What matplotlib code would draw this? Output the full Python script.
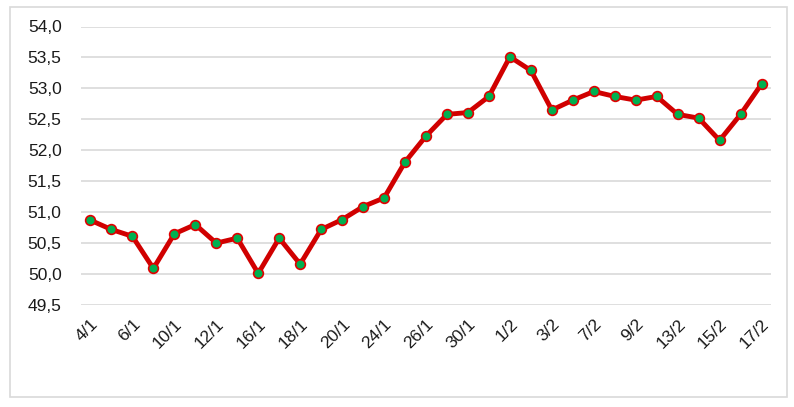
import numpy as np
import matplotlib.pyplot as plt
from matplotlib.patches import Rectangle

plt.rcParams['font.family'] = ['Liberation Sans', 'DejaVu Sans']

dates = ['4/1', '5/1', '6/1', '9/1', '10/1', '11/1', '12/1', '13/1', '16/1', '17/1',
         '18/1', '19/1', '20/1', '23/1', '24/1', '25/1', '26/1', '27/1', '30/1', '31/1',
         '1/2', '2/2', '3/2', '6/2', '7/2', '8/2', '9/2', '10/2', '13/2', '14/2',
         '15/2', '16/2', '17/2']
values = [50.87, 50.72, 50.61, 50.09, 50.65, 50.80, 50.50, 50.58, 50.01, 50.58,
          50.16, 50.72, 50.88, 51.09, 51.23, 51.81, 52.23, 52.58, 52.61, 52.87,
          53.51, 53.29, 52.65, 52.81, 52.95, 52.87, 52.81, 52.87, 52.58, 52.52,
          52.16, 52.58, 53.07]
yticks = [49.5, 50.0, 50.5, 51.0, 51.5, 52.0, 52.5, 53.0, 53.5, 54.0]

W, H = 794, 407
fig = plt.figure(figsize=(W / 100, H / 100), dpi=100)
fig.patches.append(Rectangle((10 / W, 1 - 397 / H), 777 / W, 390 / H,
                             transform=fig.transFigure, fill=False,
                             edgecolor='#d9d9d9', linewidth=1.2))

ax = fig.add_axes([81 / W, 1 - 305 / H, 690 / W, (305 - 26.5) / H])
x = np.arange(len(values))
ax.plot(x, values, color='#d00000', linewidth=3.5, marker='o', markersize=7,
        markerfacecolor='#00b050', markeredgecolor='#e00000', markeredgewidth=1.2,
        zorder=3, clip_on=False)

ax.set_xlim(-0.45, len(values) - 1 + 0.45)
ax.set_ylim(49.5, 54.0)
ax.set_yticks(yticks)
ax.set_yticklabels([f'{v:.1f}'.replace('.', ',') for v in yticks], fontsize=12.5)
ax.yaxis.grid(True, color='#d9d9d9', linewidth=1.2)
ax.set_axisbelow(True)
ax.tick_params(axis='y', length=0, pad=14, colors='#1a1a1a')

ax.set_xticks(x[::2])
ax.set_xticklabels(dates[::2], rotation=45, ha='right', rotation_mode='anchor',
                   fontsize=12.5, color='#1a1a1a')
ax.tick_params(axis='x', length=0, pad=8)

for s in ax.spines.values():
    s.set_visible(False)

fig.savefig('out.png', dpi=100)
